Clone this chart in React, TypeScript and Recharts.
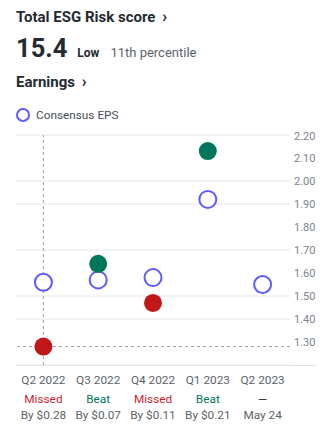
import React from 'react';
import { ComposedChart, Line, XAxis, YAxis, CartesianGrid, ReferenceLine } from 'recharts';

const quarters = ['Q2 2022', 'Q3 2022', 'Q4 2022', 'Q1 2023', 'Q2 2023'];
const consensusEPS = [1.56, 1.57, 1.58, 1.92, 1.55];
const actualEPS: (number | null)[] = [1.28, 1.64, 1.47, 2.13, null];
const results = ['Missed', 'Beat', 'Missed', 'Beat', '—'];
const details = ['By $0.28', 'By $0.07', 'By $0.11', 'By $0.21', 'May 24'];
const yTicks = [1.3, 1.4, 1.5, 1.6, 1.7, 1.8, 1.9, 2.0, 2.1, 2.2];

const data = quarters.map((q, i) => ({ quarter: q, consensus: consensusEPS[i], actual: actualEPS[i] }));

const FONT = 'Roboto, "Open Sans", sans-serif';
const BLUE = '#5b5bff';
const GREEN = '#00775c';
const RED = '#c21719';
const DARK = '#232a31';
const GRAY = '#5b636a';

const resultColor = (r: string) => (r === 'Beat' ? GREEN : r === 'Missed' ? '#cc1f2b' : DARK);

const XTick = (props: any) => {
  const { x, y, payload, index } = props;
  const i = typeof index === 'number' ? index : quarters.indexOf(payload.value);
  return (
    <g transform={`translate(${x},${y})`}>
      <text x={0} y={0} dy={11} textAnchor="middle" fontSize={11.8} fill={GRAY} fontFamily={FONT}>
        {payload.value}
      </text>
      <text x={0} y={0} dy={30} textAnchor="middle" fontSize={11.8} fill={resultColor(results[i])} fontFamily={FONT}>
        {results[i]}
      </text>
      <text x={0} y={0} dy={46} textAnchor="middle" fontSize={11.8} fill={GRAY} fontFamily={FONT}>
        {details[i]}
      </text>
    </g>
  );
};

const ActualDot = (props: any) => {
  const { cx, cy, index } = props;
  if (cy == null || cx == null) return <g key={`a-${index}`} />;
  const fill = results[index] === 'Beat' ? GREEN : RED;
  return <circle key={`a-${index}`} cx={cx} cy={cy} r={9} fill={fill} />;
};

export default function App() {
  return (
    <div style={{ position: 'absolute', left: 0, top: 0, width: 327, height: 434, background: '#fff', fontFamily: FONT, color: DARK }}>
      <div style={{ position: 'absolute', left: 16, top: 7, fontSize: 15, fontWeight: 700, whiteSpace: 'nowrap' }}>
        Total ESG Risk score <span style={{ fontSize: 16, marginLeft: 3 }}>›</span>
      </div>
      <div style={{ position: 'absolute', left: 16, top: 33, whiteSpace: 'nowrap', display: 'flex', alignItems: 'baseline' }}>
        <span style={{ fontSize: 25.5, fontWeight: 700 }}>15.4</span>
        <span style={{ fontSize: 12, fontWeight: 700, marginLeft: 10 }}>Low</span>
        <span style={{ fontSize: 13, color: GRAY, marginLeft: 11 }}>11th percentile</span>
      </div>
      <div style={{ position: 'absolute', left: 16, top: 72, fontSize: 15, fontWeight: 700, whiteSpace: 'nowrap' }}>
        Earnings <span style={{ fontSize: 16, marginLeft: 3 }}>›</span>
      </div>
      <div style={{ position: 'absolute', left: 16, top: 107, display: 'flex', alignItems: 'center', whiteSpace: 'nowrap' }}>
        <svg width={16} height={16}>
          <circle cx={7} cy={8} r={6} fill="#fff" stroke={BLUE} strokeWidth={2} />
        </svg>
        <span style={{ fontSize: 11.8, color: '#464e56', marginLeft: 4 }}>Consensus EPS</span>
      </div>
      <div style={{ position: 'absolute', left: 16, top: 365, width: 300, height: 1, background: '#e0e4e9' }} />
      <div style={{ position: 'absolute', left: 0, top: 130 }}>
        <ComposedChart width={327} height={300} data={data} margin={{ top: 5, right: 11, bottom: 0, left: 16 }}>
          <CartesianGrid vertical={false} stroke="#e3e6ea" />
          <XAxis
            dataKey="quarter"
            scale="band"
            axisLine={false}
            tickLine={false}
            height={65}
            tick={<XTick />}
            interval={0}
          />
          <YAxis
            orientation="right"
            domain={[1.2, 2.2]}
            ticks={yTicks}
            axisLine={false}
            tickLine={false}
            tickSize={4}
            tickMargin={0}
            width={26}
            tick={{ fontSize: 11, fill: '#7b838b', fontFamily: FONT, textAnchor: 'start' }}
            tickFormatter={(v: number) => v.toFixed(2)}
          />
          <ReferenceLine x="Q2 2022" stroke="#9aa0a6" strokeDasharray="3 3" />
          <ReferenceLine y={1.28} stroke="#9aa0a6" strokeDasharray="3 3" />
          <Line
            dataKey="consensus"
            stroke="none"
            isAnimationActive={false}
            dot={{ r: 8.5, fill: '#fff', stroke: BLUE, strokeWidth: 2 }}
            activeDot={false}
          />
          <Line
            dataKey="actual"
            stroke="none"
            isAnimationActive={false}
            dot={<ActualDot />}
            activeDot={false}
            connectNulls={false}
          />
        </ComposedChart>
      </div>
    </div>
  );
}
